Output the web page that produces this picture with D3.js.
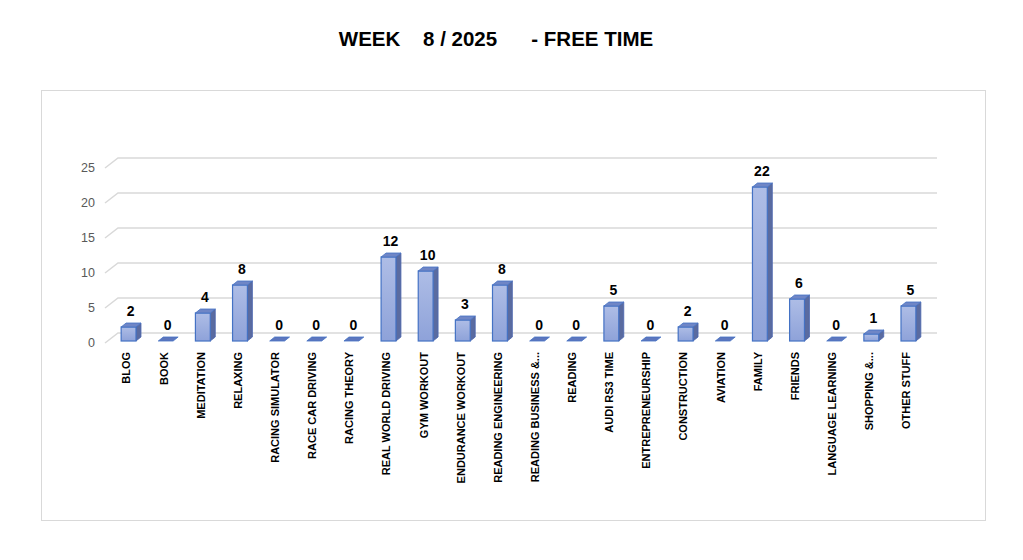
<!DOCTYPE html>
<html><head><meta charset="utf-8">
<script src="https://cdn.jsdelivr.net/npm/d3@7"></script>
<style>
html,body{margin:0;padding:0;background:#fff;}
svg{display:block;}
text{font-family:"Liberation Sans Narrow","Liberation Sans",Arial,sans-serif;}
</style></head>
<body>
<svg id="chart" width="1023" height="560"></svg>
<script>
const titleText = "WEEK    8 / 2025      - FREE TIME";
const categories = ["BLOG","BOOK","MEDITATION","RELAXING","RACING SIMULATOR","RACE CAR DRIVING","RACING THEORY","REAL WORLD DRIVING","GYM WORKOUT","ENDURANCE WORKOUT","READING ENGINEERING","READING BUSINESS &...","READING","AUDI RS3 TIME","ENTREPRENEURSHIP","CONSTRUCTION","AVIATION","FAMILY","FRIENDS","LANGUAGE LEARNING","SHOPPING &...","OTHER STUFF"];
const values = [2,0,4,8,0,0,0,12,10,3,8,0,0,5,0,2,0,22,6,0,1,5];
const yTicks = [0,5,10,15,20,25];

const svg = d3.select("#chart");
const depthX = 13, depthY = 10;   // floor depth (grid slant)
const barDX = 5, barDY = 4;       // bar depth

// frame
svg.append("rect").attr("x",41.5).attr("y",90.5).attr("width",944).attr("height",430)
  .attr("fill","#fff").attr("stroke","#d9d9d9").attr("stroke-width",1);

// title
svg.append("text").attr("x",496).attr("y",46).attr("text-anchor","middle")
  .style("white-space","pre").attr("xml:space","preserve")
  .style("font-family","'Liberation Sans',Arial,sans-serif")
  .style("font-weight","bold").style("font-size","20.5px").attr("fill","#000").text(titleText);

const x = d3.scaleBand().domain(categories).range([110,927]).paddingInner(0.6).paddingOuter(0.3);
const yFront = d3.scaleLinear().domain([0,25]).range([341,166]);
const yBack = d3.scaleLinear().domain([0,25]).range([333,158]);

// gridlines (back wall + floor slant)
const grid = svg.append("g");
yTicks.forEach(t=>{
  const yb = yBack(t);
  grid.append("path")
    .attr("d", `M${105},${yb+depthY} L${105+depthX},${yb} L${937},${yb}`)
    .attr("fill","none").attr("stroke","#d9d9d9").attr("stroke-width",1.5);
});

// y axis tick labels
const yAxis = d3.axisLeft(d3.scaleLinear().domain([0,25]).range([342,167])).tickValues(yTicks).tickSize(0).tickPadding(0);
const ya = svg.append("g").attr("transform","translate(95,0)").call(yAxis);
ya.select(".domain").remove();
ya.selectAll("text").attr("fill","#595959").style("font-size","12.5px")
  .style("font-family","'Liberation Sans',Arial,sans-serif");

// gradient
const defs = svg.append("defs");
const lg = defs.append("linearGradient").attr("id","gFront").attr("x1",0).attr("y1",0).attr("x2",0).attr("y2",1);
lg.append("stop").attr("offset","0%").attr("stop-color","#aebde6");
lg.append("stop").attr("offset","100%").attr("stop-color","#8ea2d9");

// bars
const bw = x.bandwidth();
const bars = svg.append("g").selectAll("g.bar").data(categories.map((c,i)=>({c,v:values[i]}))).join("g");
bars.each(function(d){
  const g = d3.select(this);
  const x0 = x(d.c), x1 = x0 + bw;
  const yt = yFront(d.v), yb = yFront(0);
  if (d.v > 0) {
    g.append("path").attr("d",`M${x1},${yt} L${x1+barDX},${yt-barDY} L${x1+barDX},${yb-barDY} L${x1},${yb} Z`)
      .attr("fill","#5a6ba0").attr("stroke","#4a66b0").attr("stroke-width",0.8);
    g.append("rect").attr("x",x0).attr("y",yt).attr("width",bw).attr("height",yb-yt)
      .attr("fill","url(#gFront)").attr("stroke","#4472c4").attr("stroke-width",1.2);
  }
  g.append("path").attr("d",`M${x0},${yt} L${x0+barDX},${yt-barDY} L${x1+barDX},${yt-barDY} L${x1},${yt} Z`)
    .attr("fill", d.v>0 ? "#6f86c6" : "#5d76bd").attr("stroke","#4472c4").attr("stroke-width",0.8);
  g.append("text").attr("x",x0+bw/2+2).attr("y",yt-11).attr("text-anchor","middle")
    .style("font-family","'Liberation Sans',Arial,sans-serif")
    .style("font-weight","bold").style("font-size","14px").attr("fill","#000").text(d.v);
});

// category labels
const xAxis = d3.axisBottom(x).tickSize(0).tickPadding(0);
const xa = svg.append("g").attr("transform","translate(0,352)").call(xAxis);
xa.select(".domain").remove();
xa.selectAll("text")
  .attr("transform","rotate(-90)").attr("x",0).attr("y",-2).attr("dy","0.35em")
  .attr("text-anchor","end")
  .style("font-weight","bold").style("font-size","11px").attr("fill","#000");
</script>
</body></html>
